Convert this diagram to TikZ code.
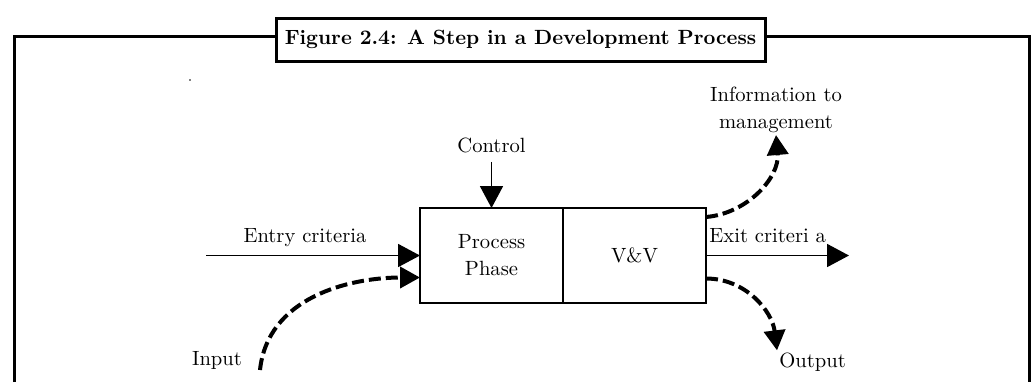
\documentclass[tikz,border=0pt]{standalone}
\usepackage{amsmath}
\usetikzlibrary{arrows.meta,positioning}

\begin{document}
\begin{tikzpicture}[x=0.5pt,y=-0.5pt,
  lbl/.style={inner sep=1pt,align=center,font=\fontsize{10.3}{13.5}\selectfont},
  cellbox/.style={draw,line width=0.9pt,minimum width=71.5pt,minimum height=47.5pt,inner sep=0pt,outer sep=0pt,align=center,font=\fontsize{10.3}{13.5}\selectfont},
  solidarr/.style={line width=0.9pt,-{Triangle[length=11pt,width=11.5pt]}},
  dasharr/.style={line width=2pt,dash pattern=on 6pt off 2.5pt,-{Triangle[length=10pt,width=10.5pt]}}]
\useasboundingbox (0,0) rectangle (1031,382);

% frame
\draw[line width=1.5pt] (14,382) -- (14,36) -- (1029,36) -- (1029,382);
\node (title) at (520.5,39.5) [draw,fill=white,line width=1.5pt,minimum width=244.5pt,minimum height=21.5pt,inner sep=0pt,font=\fontsize{10.3}{12}\bfseries] {Figure 2.4: A Step in a Development Process};
\fill (190,80) circle (0.4pt);

% the step
\node (proc) at (491.5,255.5) [cellbox] {Process\\Phase};
\node (vv) [cellbox,right=0pt of proc] {V\&V};

\coordinate (entry) at (206,255.5);
\coordinate (exit) at (849,255.5);
\coordinate (instart) at (260,370);

\node (entrylbl) at (305,238) [lbl] {Entry criteria};
\node (inlbl) at (217,360) [lbl] {Input};
\node (ctrl) at (491.5,145) [lbl] {Control};
\node (info) at (776,135) [lbl,anchor=south] {Information to\\management};
\node (exitlbl) at (707,236) [lbl,anchor=west] {Exit criteri a};
\node (outlbl) at (777,362) [lbl,anchor=west] {Output};

\draw[solidarr] (entry) -- (proc.west);
\draw[solidarr,shorten <=3.5pt] (ctrl.south) -- (proc.north);
\draw[solidarr] (vv.east) -- (exit);

\draw[dasharr] (instart) to[out=84,in=180] ([yshift=-11pt]proc.west);
\draw[dasharr] ([yshift=-4.5pt]vv.north east) to[out=5,in=-85] (info.south);
\draw[dasharr] ([yshift=-11.5pt]vv.east) to[out=0,in=97] (outlbl.north west);
\end{tikzpicture}
\end{document}
